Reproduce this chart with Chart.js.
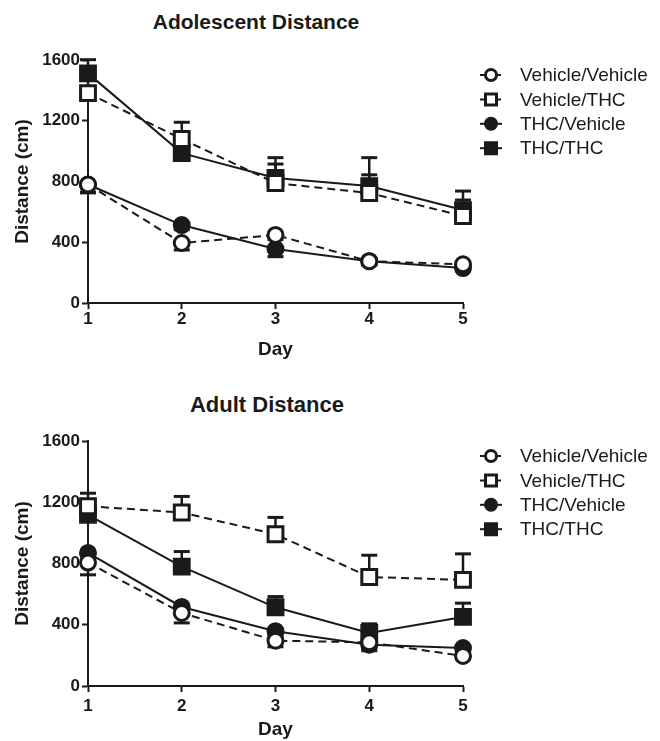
<!DOCTYPE html>
<html>
<head>
<meta charset="utf-8">
<script src="https://cdn.jsdelivr.net/npm/chart.js@4.4.1/dist/chart.umd.min.js"></script>
<style>
  body { margin: 0; background: #fff; }
  #wrap { position: relative; width: 660px; height: 741px; font-family: 'Liberation Sans', Arial, sans-serif; }
  .ttl { position: absolute; font-weight: bold; color: #1a1a1a; white-space: nowrap; transform: translate(-50%, -50%); }
  canvas { position: absolute; left: 0; }
</style>
</head>
<body>
<div id="wrap">
  <div class="ttl" style="left:256px; top:22px; font-size:21px;">Adolescent Distance</div>
  <div class="ttl" style="left:267px; top:405px; font-size:22px;">Adult Distance</div>
  <canvas id="adolChart" width="660" height="370" style="top:0"></canvas>
  <canvas id="adultChart" width="660" height="371" style="top:370px"></canvas>
</div>
<script>
// Tageswerte (Distanz in cm)
const days = ['1', '2', '3', '4', '5'];
const groupNames = ['Vehicle/Vehicle', 'Vehicle/THC', 'THC/Vehicle', 'THC/THC'];
const yTicks = [0, 400, 800, 1200, 1600];

// Adoleszent
const adolVehVeh = [780, 395, 448, 275, 255];
const adolVehThc = [1382, 1080, 790, 724, 573];
const adolThcVeh = [780, 513, 355, 275, 230];
const adolThcThc = [1512, 987, 823, 770, 612];
const adolVehVehSem = [55, 46, 30, 20, 20];
const adolVehThcSem = [100, 110, 125, 120, 105];
const adolThcVehSem = [50, 30, 50, 25, 20];
const adolThcThcSem = [90, 80, 134, 187, 125];

// Adult
const adultVehVeh = [806, 477, 296, 285, 196];
const adultVehThc = [1174, 1133, 991, 712, 693];
const adultThcVeh = [869, 516, 358, 270, 248];
const adultThcThc = [1118, 780, 514, 346, 451];
const adultVehVehSem = [80, 65, 40, 40, 20];
const adultVehThcSem = [85, 105, 110, 142, 170];
const adultThcVehSem = [40, 40, 30, 40, 20];
const adultThcThcSem = [60, 98, 70, 60, 90];

const INK = '#1a1a1a';
const FONT = "'Liberation Sans', Arial, sans-serif";

// Stil je Gruppe: offen/gefüllt, Kreis/Quadrat, gestrichelt/durchgezogen
const groupStyles = [
    { pointStyle: 'circle', fill: '#fff', dash: [8, 5], radius: 7.5, errDir: -1 },
    { pointStyle: 'rect', fill: '#fff', dash: [8, 5], radius: 10.5, errDir: 1 },
    { pointStyle: 'circle', fill: INK, dash: [], radius: 7.5, errDir: -1 },
    { pointStyle: 'rect', fill: INK, dash: [], radius: 10.5, errDir: 1 }
];

function buildDatasets(series, sems) {
    return series.map((values, i) => {
        const st = groupStyles[i];
        return {
            label: groupNames[i],
            data: values,
            sem: sems[i],
            errDir: st.errDir,
            borderColor: INK,
            borderWidth: 2,
            borderDash: st.dash,
            tension: 0,
            pointStyle: st.pointStyle,
            pointRadius: st.radius,
            pointHoverRadius: st.radius,
            pointBackgroundColor: st.fill,
            pointBorderColor: INK,
            pointBorderWidth: 3,
            clip: false
        };
    });
}

// Fehlerbalken (SEM), einseitig wie im Original
const errorBars = {
    id: 'errorBars',
    beforeDatasetsDraw(chart) {
        const { ctx } = chart;
        const yScale = chart.scales.y;
        chart.data.datasets.forEach((ds, i) => {
            const meta = chart.getDatasetMeta(i);
            meta.data.forEach((pt, j) => {
                const sem = ds.sem[j];
                if (!sem) return;
                const yEnd = yScale.getPixelForValue(ds.data[j] + ds.errDir * sem);
                ctx.save();
                ctx.strokeStyle = INK;
                ctx.lineWidth = 2.5;
                ctx.beginPath();
                ctx.moveTo(pt.x, pt.y);
                ctx.lineTo(pt.x, yEnd);
                ctx.stroke();
                ctx.lineWidth = 3;
                ctx.beginPath();
                ctx.moveTo(pt.x - 8, yEnd);
                ctx.lineTo(pt.x + 8, yEnd);
                ctx.stroke();
                ctx.restore();
            });
        });
    }
};

// Legende rechts: Linie + Symbol + Text
const sideLegend = {
    id: 'sideLegend',
    afterDraw(chart) {
        const { ctx, chartArea } = chart;
        const x0 = chartArea.right + 17;
        chart.data.datasets.forEach((ds, i) => {
            const y = chartArea.top + 15 + i * 24.4;
            ctx.save();
            ctx.strokeStyle = INK;
            ctx.lineWidth = 2;
            ctx.setLineDash(ds.borderDash);
            ctx.beginPath();
            ctx.moveTo(x0, y);
            ctx.lineTo(x0 + 22, y);
            ctx.stroke();
            ctx.setLineDash([]);
            ctx.fillStyle = ds.pointBackgroundColor;
            ctx.lineWidth = 3;
            ctx.beginPath();
            if (ds.pointStyle === 'circle') {
                ctx.arc(x0 + 11, y, 5.5, 0, Math.PI * 2);
            } else {
                ctx.rect(x0 + 5.5, y - 5.5, 11, 11);
            }
            ctx.fill();
            ctx.stroke();
            ctx.fillStyle = INK;
            ctx.font = `19px ${FONT}`;
            ctx.textBaseline = 'middle';
            ctx.fillText(ds.label, x0 + 40, y + 1);
            ctx.restore();
        });
    }
};

function makeChart(canvasId, datasets, layout) {
    const ctx = document.getElementById(canvasId).getContext('2d');
    return new Chart(ctx, {
        type: 'line',
        data: { labels: days, datasets },
        plugins: [errorBars, sideLegend],
        options: {
            responsive: false,
            animation: false,
            events: [],
            layout: { padding: { top: layout.padTop, right: 197, left: 0, bottom: 0 } },
            plugins: { legend: { display: false }, tooltip: { enabled: false } },
            scales: {
                x: {
                    offset: false,
                    afterFit(scale) { scale.height = layout.xHeight; },
                    border: { display: true, color: INK, width: 2 },
                    grid: { display: true, drawOnChartArea: false, drawTicks: true, tickLength: 6, tickWidth: 2, tickColor: INK },
                    ticks: { color: INK, padding: layout.xTickPad, font: { family: FONT, size: 17, weight: 'bold' } },
                    title: { display: true, text: 'Day', color: INK, padding: { top: 0, bottom: layout.xTitlePad }, font: { family: FONT, size: 19, weight: 'bold' } }
                },
                y: {
                    min: 0,
                    max: 1600,
                    afterFit(scale) { scale.width = 88; },
                    afterBuildTicks(scale) { scale.ticks = yTicks.map(v => ({ value: v })); },
                    border: { display: true, color: INK, width: 2 },
                    grid: { display: true, drawOnChartArea: false, drawTicks: true, tickLength: 6, tickWidth: 2, tickColor: INK },
                    ticks: { color: INK, padding: 2, callback: v => String(v), font: { family: FONT, size: 17, weight: 'bold' } },
                    title: { display: true, text: 'Distance (cm)', color: INK, padding: { top: 11, bottom: 0 }, font: { family: FONT, size: 19, weight: 'bold' } }
                }
            }
        }
    });
}

makeChart('adolChart',
    buildDatasets([adolVehVeh, adolVehThc, adolThcVeh, adolThcThc],
        [adolVehVehSem, adolVehThcSem, adolThcVehSem, adolThcThcSem]),
    { padTop: 60, xHeight: 67, xTickPad: 0, xTitlePad: 9 });

makeChart('adultChart',
    buildDatasets([adultVehVeh, adultVehThc, adultThcVeh, adultThcThc],
        [adultVehVehSem, adultVehThcSem, adultThcVehSem, adultThcThcSem]),
    { padTop: 71, xHeight: 55, xTickPad: 4, xTitlePad: 0 });
</script>
</body>
</html>
